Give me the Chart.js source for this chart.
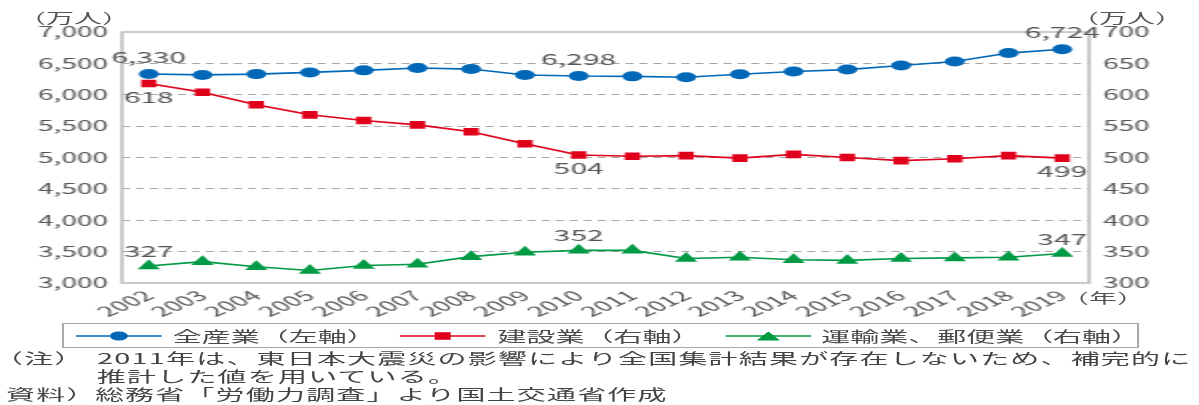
<!DOCTYPE html>
<html lang="ja">
<head>
<meta charset="utf-8">
<script src="https://cdn.jsdelivr.net/npm/chart.js@4.4.1/dist/chart.umd.min.js"></script>
<style>
  html, body { margin: 0; padding: 0; background: #fff; overflow: hidden; }
  /* the whole figure is laid out 600px wide and stretched to the page width */
  #stage {
    position: absolute; left: 0; top: 0; width: 600px; height: 405px;
    transform: scaleX(1.99833); transform-origin: 0 0;
    font-family: "Noto Sans CJK JP", sans-serif; color: #555;
  }
  #chart { position: absolute; left: 0; top: 0; }
  .txt { position: absolute; white-space: nowrap; line-height: 14px; }
  .unit { font-size: 14px; }
  #legend {
    position: absolute; left: 31px; top: 323px; width: 539px; height: 25px;
    border: 1px solid #a8a8a8; box-sizing: border-box;
  }
  .key { position: absolute; }
  .legend-text { font-size: 14.5px; color: #4a4a4a; top: 329px; }
  .note { font-size: 14.5px; color: #444; letter-spacing: 0.6px; }
</style>
</head>
<body>
<div id="stage">
  <canvas id="chart" width="600" height="405"></canvas>

  <div class="txt unit" style="left:9px; top:10px;">（万人）</div>
  <div class="txt unit" style="left:536px; top:10px;">（万人）</div>
  <div class="txt unit" style="left:531px; top:290px;">（年）</div>

  <div id="legend"></div>
  <svg class="key" style="left:37.5px; top:331px;" width="43" height="10">
    <line x1="0" y1="5" x2="43" y2="5" stroke="#0068b7" stroke-width="1.5"/>
    <circle cx="21.5" cy="5" r="4.5" fill="#0068b7"/>
  </svg>
  <div class="txt legend-text" style="left:86.5px;">全産業（左軸）</div>
  <svg class="key" style="left:200px; top:331px;" width="43" height="10">
    <line x1="0" y1="5" x2="43" y2="5" stroke="#e0001b" stroke-width="1.5"/>
    <rect x="17.5" y="1.2" width="8" height="7.6" fill="#e0001b"/>
  </svg>
  <div class="txt legend-text" style="left:249px;">建設業（右軸）</div>
  <svg class="key" style="left:362.5px; top:331px;" width="43" height="10">
    <line x1="0" y1="5" x2="43" y2="5" stroke="#009944" stroke-width="1.5"/>
    <polygon points="21.5,0.5 27.4,9.5 15.6,9.5" fill="#009944"/>
  </svg>
  <div class="txt legend-text" style="left:411px;">運輸業、郵便業（右軸）</div>

  <div class="txt note" style="left:-3px; top:351px;">（注）</div>
  <div class="txt note" style="left:48.5px; top:351px;">2011年は、東日本大震災の影響により全国集計結果が存在しないため、補完的に</div>
  <div class="txt note" style="left:48.5px; top:369px;">推計した値を用いている。</div>
  <div class="txt note" style="left:3px; top:387px;">資料）</div>
  <div class="txt note" style="left:47.5px; top:387px;">総務省「労働力調査」より国土交通省作成</div>
</div>

<script>
const years = ['2002', '2003', '2004', '2005', '2006', '2007', '2008', '2009', '2010',
  '2011', '2012', '2013', '2014', '2015', '2016', '2017', '2018', '2019'];

// 就業者数（万人）
const allIndustries = [6330, 6316, 6329, 6356, 6389, 6427, 6409, 6314, 6298,
  6293, 6280, 6326, 6371, 6401, 6465, 6530, 6664, 6724];
const construction = [618, 604, 584, 568, 559, 552, 541, 522, 504,
  502, 503, 499, 505, 500, 495, 498, 503, 499];
const transport = [327, 334, 326, 320, 328, 330, 342, 349, 352,
  352, 339, 341, 337, 336, 339, 340, 341, 347];

// years whose values are printed next to the markers
const labeledYears = ['2002', '2010', '2019'];

const leftMin = 3000, leftMax = 7000, leftStep = 500;
const rightMin = 300, rightMax = 700, rightStep = 50;

const BLUE = '#0068b7';
const RED = '#e0001b';
const GREEN = '#009944';
const TEXT = '#555';
const FONT = '"Noto Sans CJK JP", sans-serif';

// solid frame around the plot area
const plotFrame = {
  id: 'plotFrame',
  beforeDatasetsDraw(chart) {
    const { ctx, chartArea: { left, top, right, bottom } } = chart;
    ctx.save();
    ctx.strokeStyle = '#b0b0b0';
    ctx.lineWidth = 1.3;
    ctx.strokeRect(left, top, right - left, bottom - top);
    ctx.restore();
  },
};

// value labels for the first, middle and last year
const pointLabels = {
  id: 'pointLabels',
  afterDatasetsDraw(chart) {
    const { ctx } = chart;
    ctx.save();
    ctx.font = `15px ${FONT}`;
    ctx.fillStyle = TEXT;
    ctx.textAlign = 'center';
    ctx.textBaseline = 'middle';
    chart.data.datasets.forEach((ds, i) => {
      const meta = chart.getDatasetMeta(i);
      labeledYears.forEach((year) => {
        const idx = years.indexOf(year);
        const pt = meta.data[idx];
        ctx.fillText(ds.data[idx].toLocaleString('en-US'), pt.x, pt.y + ds.labelOffset);
      });
    });
    ctx.restore();
  },
};

const hideEdges = (min, max) => (c) =>
  c.tick && (c.tick.value === min || c.tick.value === max) ? 'rgba(0,0,0,0)' : '#a8a8a8';

new Chart(document.getElementById('chart'), {
  type: 'line',
  data: {
    labels: years,
    datasets: [
      {
        label: '全産業（左軸）',
        data: allIndustries,
        yAxisID: 'y',
        borderColor: BLUE,
        backgroundColor: BLUE,
        borderWidth: 1.6,
        pointStyle: 'circle',
        pointRadius: 5,
        pointBorderWidth: 0,
        labelOffset: -17,
      },
      {
        label: '建設業（右軸）',
        data: construction,
        yAxisID: 'y1',
        borderColor: RED,
        backgroundColor: RED,
        borderWidth: 1.6,
        pointStyle: 'rect',
        pointRadius: 5.4,
        pointBorderWidth: 0,
        labelOffset: 13.5,
      },
      {
        label: '運輸業、郵便業（右軸）',
        data: transport,
        yAxisID: 'y1',
        borderColor: GREEN,
        backgroundColor: GREEN,
        borderWidth: 1.6,
        pointStyle: 'triangle',
        pointRadius: 6.5,
        pointBorderWidth: 0,
        labelOffset: -14.7,
      },
    ],
  },
  options: {
    responsive: false,
    animation: false,
    layout: { padding: { top: 32, left: 0, right: 0, bottom: 0 } },
    elements: { line: { tension: 0 } },
    plugins: {
      legend: { display: false },
      tooltip: { enabled: false },
    },
    scales: {
      x: {
        offset: true,
        grid: { display: false, drawTicks: false },
        border: { display: false },
        ticks: {
          autoSkip: false,
          minRotation: 40,
          maxRotation: 40,
          padding: 4,
          color: TEXT,
          font: { family: FONT, size: 14 },
        },
        afterFit: (scale) => {
          scale.height = 122;
          scale.paddingLeft = 0;
          scale.paddingRight = 0;
        },
      },
      y: {
        position: 'left',
        min: leftMin,
        max: leftMax,
        grid: { color: hideEdges(leftMin, leftMax), lineWidth: 1, drawTicks: false },
        border: { display: false, dash: [4, 3] },
        ticks: {
          stepSize: leftStep,
          padding: 7,
          color: TEXT,
          font: { family: FONT, size: 14 },
          callback: (v) => v.toLocaleString('en-US'),
        },
        afterFit: (scale) => { scale.width = 61; },
      },
      y1: {
        position: 'right',
        min: rightMin,
        max: rightMax,
        grid: { display: false, drawTicks: false },
        border: { display: false },
        ticks: {
          stepSize: rightStep,
          padding: 7,
          color: TEXT,
          font: { family: FONT, size: 14 },
        },
        afterFit: (scale) => { scale.width = 55; },
      },
    },
  },
  plugins: [plotFrame, pointLabels],
});
</script>
</body>
</html>
